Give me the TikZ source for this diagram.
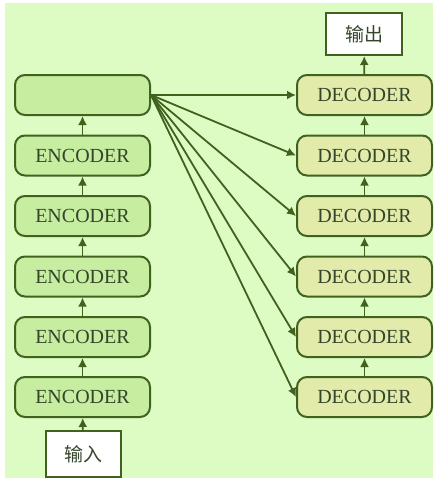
\documentclass[tikz,border=0pt]{standalone}
\usepackage{fontspec}
\setmainfont{Liberation Serif}
\newfontfamily\cjk{Noto Sans CJK SC}
\usetikzlibrary{arrows.meta}
\definecolor{bgcol}{HTML}{DCFCC4}
\definecolor{enccol}{HTML}{C6EDA0}
\definecolor{deccol}{HTML}{E2EBAA}
\definecolor{linecol}{HTML}{41621F}
\definecolor{txtcol}{HTML}{34452C}
\tikzset{
  blk/.style={draw=linecol, line width=2pt, rounded corners=10pt,
    minimum width=135pt, minimum height=40pt, inner sep=0pt,
    text=txtcol, font=\fontsize{20}{20}\selectfont},
  enc/.style={blk, fill=enccol},
  dec/.style={blk, fill=deccol},
  io/.style={draw=linecol, line width=2pt, fill=white, inner sep=0pt,
    text=txtcol, font=\fontsize{19}{19}\selectfont\cjk},
  conn/.style={draw=linecol, line width=1.8pt,
    -{Latex[length=9pt,width=9pt]}},
}
\begin{document}
\begin{tikzpicture}[x=1pt,y=-1pt]
  \useasboundingbox (0,0) rectangle (437,482);
  \fill[bgcol] (5,3) rectangle (433,478);

  % encoder stack
  \node[io, minimum width=75pt, minimum height=46pt] (in) at (83,454) {输入};
  \node[enc] (e5) at (82.5,397) {ENCODER};
  \node[enc] (e4) at (82.5,337) {ENCODER};
  \node[enc] (e3) at (82.5,276.5) {ENCODER};
  \node[enc] (e2) at (82.5,216) {ENCODER};
  \node[enc] (e1) at (82.5,155.5) {ENCODER};
  \node[enc] (h) at (82.5,95) {};

  % decoder stack
  \node[dec] (d6) at (364.5,397) {DECODER};
  \node[dec] (d5) at (364.5,337) {DECODER};
  \node[dec] (d4) at (364.5,276.5) {DECODER};
  \node[dec] (d3) at (364.5,216) {DECODER};
  \node[dec] (d2) at (364.5,155.5) {DECODER};
  \node[dec] (d1) at (364.5,95) {DECODER};
  \node[io, minimum width=76pt, minimum height=42pt] (out) at (364,34) {输出};

  % upward links
  \draw[conn] (in) -- (e5);
  \draw[conn] (e5) -- (e4);
  \draw[conn] (e4) -- (e3);
  \draw[conn] (e3) -- (e2);
  \draw[conn] (e2) -- (e1);
  \draw[conn] (e1) -- (h);
  \draw[conn] (d6) -- (d5);
  \draw[conn] (d5) -- (d4);
  \draw[conn] (d4) -- (d3);
  \draw[conn] (d3) -- (d2);
  \draw[conn] (d2) -- (d1);
  \draw[conn] (d1) -- (out);

  % fan-out from the encoded state
  \foreach \d in {d1,d2,d3,d4,d5,d6}
    \draw[conn] (h.east) -- (\d.west);
\end{tikzpicture}
\end{document}
